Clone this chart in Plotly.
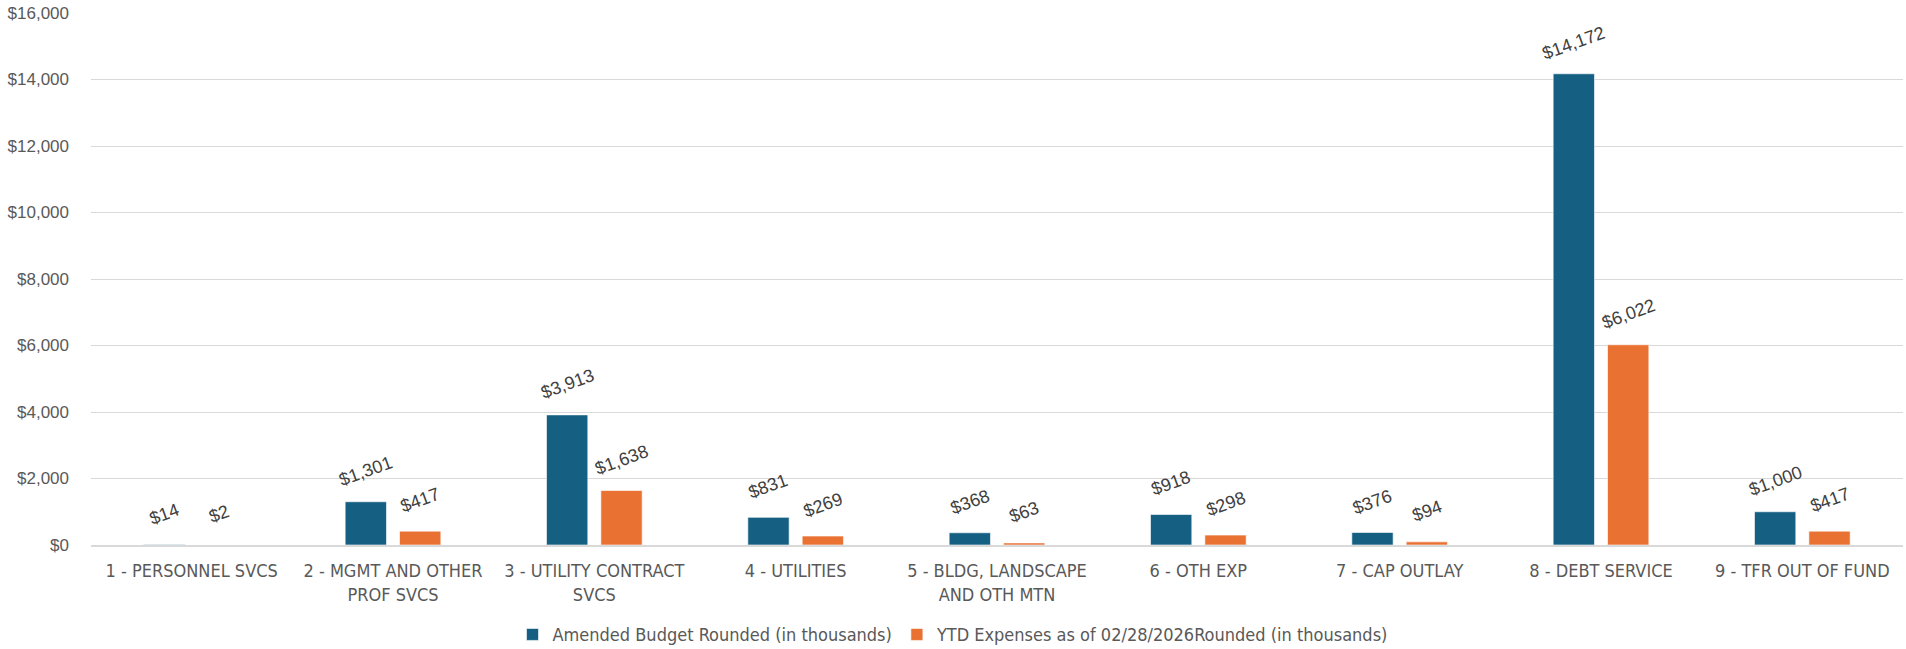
import plotly.graph_objects as go

categories = [
    "1 - PERSONNEL SVCS",
    "2 - MGMT AND OTHER<br>PROF SVCS",
    "3 - UTILITY CONTRACT<br>SVCS",
    "4 - UTILITIES",
    "5 - BLDG, LANDSCAPE<br>AND OTH MTN",
    "6 - OTH EXP",
    "7 - CAP OUTLAY",
    "8 - DEBT SERVICE",
    "9 - TFR OUT OF FUND",
]
amended = [14, 1301, 3913, 831, 368, 918, 376, 14172, 1000]
ytd = [2, 417, 1638, 269, 63, 298, 94, 6022, 417]
series_names = [
    "Amended Budget Rounded (in thousands)",
    "YTD Expenses as of 02/28/2026Rounded (in thousands)",
]
colors = ["#156082", "#E97132"]
y_ticks = list(range(0, 16001, 2000))

BARGAP = 0.46
BARGROUPGAP = 0.24
narrow = "Liberation Sans Narrow, DejaVu Sans Condensed, Arial Narrow, sans-serif"
regular = "Liberation Sans, Arial, sans-serif"

fig = go.Figure()
for name, vals, col in zip(series_names, [amended, ytd], colors):
    fig.add_trace(go.Bar(
        x=categories, y=vals, name=name,
        marker=dict(color=col, line=dict(color="rgba(255,255,255,0.6)", width=1)),
        hoverinfo="x+y",
    ))

slot = (1 - BARGAP) / 2
for s, vals in enumerate([amended, ytd]):
    off = (s - 0.5) * slot
    for i, v in enumerate(vals):
        fig.add_annotation(
            x=i + off, y=v, xref="x", yref="y",
            text=f"${v:,}", showarrow=False, textangle=-20,
            yshift=31, xanchor="center", yanchor="middle",
            font=dict(family=regular, size=18, color="#404040"),
        )

fig.update_layout(
    width=1906, height=649,
    margin=dict(l=91, r=3, t=13, b=104, autoexpand=False),
    paper_bgcolor="white", plot_bgcolor="white",
    barmode="group", bargap=BARGAP, bargroupgap=BARGROUPGAP,
    showlegend=True,
    legend=dict(
        orientation="h", xref="container", yref="container",
        x=0.5, xanchor="center", y=0.022, yanchor="middle",
        font=dict(family=narrow, size=18, color="#595959"),
        traceorder="normal",
    ),
    xaxis=dict(
        type="category", showgrid=False, zeroline=False, automargin=False,
        showline=True, linecolor="#d9d9d9", linewidth=1.5,
        tickfont=dict(family=narrow, size=18, color="#595959"),
        ticks="", ticklabelstandoff=9,
        range=[-0.5, len(categories) - 0.5],
    ),
    yaxis=dict(
        range=[0, 16000], tickvals=y_ticks, tickformat="$,", automargin=False,
        showgrid=True, gridcolor="#d9d9d9", gridwidth=1,
        zeroline=False, showline=False,
        tickfont=dict(family=regular, size=17, color="#595959"),
        ticks="", ticklabelstandoff=21, ticklabeloverflow="allow",
    ),
)

fig.write_html(
    "out.html",
    config={"displayModeBar": False},
    post_script="document.body.style.margin='0px';document.body.style.padding='0px';",
)
